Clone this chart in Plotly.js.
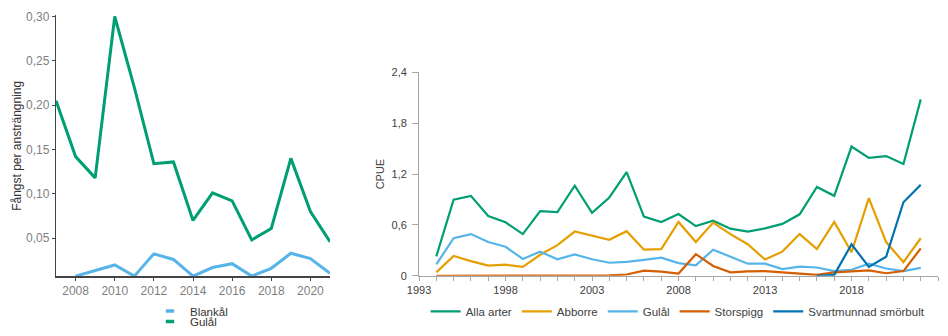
<!DOCTYPE html>
<html>
<head>
<meta charset="utf-8">
<script src="https://cdn.plot.ly/plotly-3.0.1.min.js"></script>
<style>html,body{margin:0;padding:0;background:#fff}#chart{width:948px;height:336px}</style>
</head>
<body>
<div id="chart"></div>
<script>
// ---- Left panel data ----
const leftYearsGulal = [2007,2008,2009,2010,2011,2012,2013,2014,2015,2016,2017,2018,2019,2020,2021];
const leftGulal      = [0.205,0.142,0.118,0.300,0.220,0.134,0.136,0.070,0.101,0.092,0.048,0.061,0.140,0.080,0.046];
const leftYearsBlank = [2008,2009,2010,2011,2012,2013,2014,2015,2016,2017,2018,2019,2020,2021];
const leftBlankal    = [0.0072,0.0134,0.0198,0.0072,0.0323,0.0260,0.0072,0.0169,0.0212,0.0072,0.0160,0.0330,0.0270,0.0104];
const leftYTickVals  = [0.05,0.10,0.15,0.20,0.25,0.30];
const leftYTickText  = ["0,05","0,10","0,15","0,20","0,25","0,30"];
const leftXTickVals  = [2008,2010,2012,2014,2016,2018,2020];

// ---- Right panel data ----
const rightYears = [1994,1995,1996,1997,1998,1999,2000,2001,2002,2003,2004,2005,2006,2007,2008,2009,2010,2011,2012,2013,2014,2015,2016,2017,2018,2019,2020,2021,2022];
const allaArter = [0.229,0.898,0.943,0.706,0.631,0.492,0.762,0.751,1.063,0.744,0.924,1.224,0.699,0.635,0.729,0.586,0.650,0.556,0.522,0.560,0.612,0.725,1.048,0.943,1.525,1.390,1.412,1.318,2.081];
const abborre   = [0.041,0.233,0.173,0.120,0.131,0.105,0.248,0.361,0.522,0.473,0.424,0.526,0.308,0.315,0.635,0.398,0.627,0.492,0.372,0.192,0.285,0.492,0.315,0.635,0.278,0.916,0.398,0.161,0.443];
const gulal     = [0.135,0.443,0.492,0.398,0.342,0.199,0.285,0.195,0.252,0.195,0.154,0.165,0.188,0.214,0.150,0.124,0.308,0.225,0.143,0.143,0.079,0.109,0.098,0.056,0.071,0.143,0.086,0.056,0.094];
const storspigg = [0,0,0,0,0,0,0,0,0,0,0.004,0.015,0.060,0.049,0.026,0.255,0.116,0.041,0.053,0.056,0.041,0.023,0.011,0.041,0.053,0.064,0.030,0.056,0.323];
const smorYears = [2016,2017,2018,2019,2020,2021,2022];
const smorbult  = [0,0.011,0.372,0.105,0.225,0.868,1.074];
const rightYTickVals = [0,0.6,1.2,1.8,2.4];
const rightYTickText = ["0","0,6","1,2","1,8","2,4"];

const cGreen = "#009E73", cBlue = "#56B4E9", cOrange = "#E69F00", cRed = "#D55E00", cDark = "#0072B2";

const traces = [
  // left panel
  {x: leftYearsBlank, y: leftBlankal, mode:"lines", line:{color:cBlue, width:3}, xaxis:"x", yaxis:"y", showlegend:false},
  {x: leftYearsGulal, y: leftGulal, mode:"lines", line:{color:cGreen, width:3}, xaxis:"x", yaxis:"y", showlegend:false},
  {x:[null], y:[null], name:"Blankål", mode:"markers", marker:{symbol:"line-ew", size:6, line:{width:3.5, color:cBlue}}, xaxis:"x", yaxis:"y", legend:"legend"},
  {x:[null], y:[null], name:"Gulål", mode:"markers", marker:{symbol:"line-ew", size:6, line:{width:3.5, color:cGreen}}, xaxis:"x", yaxis:"y", legend:"legend2"},
  // right panel
  {x: rightYears, y: allaArter, name:"Alla arter", mode:"lines", line:{color:cGreen, width:2.2}, xaxis:"x2", yaxis:"y2", legend:"legend3"},
  {x: rightYears, y: abborre, name:"Abborre", mode:"lines", line:{color:cOrange, width:2.2}, xaxis:"x2", yaxis:"y2", legend:"legend3"},
  {x: rightYears, y: gulal, name:"Gulål", mode:"lines", line:{color:cBlue, width:2.2}, xaxis:"x2", yaxis:"y2", legend:"legend3"},
  {x: rightYears, y: storspigg, name:"Storspigg", mode:"lines", line:{color:cRed, width:2.2}, xaxis:"x2", yaxis:"y2", legend:"legend3"},
  {x: smorYears, y: smorbult, name:"Svartmunnad smörbult", mode:"lines", line:{color:cDark, width:2.2}, xaxis:"x2", yaxis:"y2", legend:"legend3"}
];

const FAM = "Liberation Sans, Arial, sans-serif";
const leftFont = {family:FAM, size:12, color:"#7f7f7f"};
const rightFont = {family:FAM, size:11, color:"#404040"};

const layout = {
  width:948, height:336,
  margin:{l:0, r:0, t:0, b:0},
  paper_bgcolor:"#fff", plot_bgcolor:"rgba(0,0,0,0)",
  showlegend:true,
  xaxis:{domain:[0.0591,0.3481], range:[2007,2021], anchor:"y", showgrid:false, zeroline:false,
    showline:true, linecolor:"#444", linewidth:1.3, ticks:"outside", ticklen:3, tickcolor:"#444",
    tickvals:leftXTickVals, tickfont:leftFont},
  yaxis:{domain:[0.139,0.9524], range:[0.0069,0.3014], anchor:"x", showgrid:false, zeroline:false,
    showline:true, linecolor:"#444", linewidth:1.3, ticks:"outside", ticklen:3, tickcolor:"#444",
    tickvals:leftYTickVals, ticktext:leftYTickText, tickfont:leftFont,
    title:{text:"Fångst per ansträngning", font:{family:FAM, size:12, color:"#333"}, standoff:1}},
  xaxis2:{domain:[0.442,0.9895], range:[1993,2023], anchor:"y2", showgrid:false, zeroline:false,
    showline:true, linecolor:"#a6a6a6", linewidth:1, ticks:"outside", ticklen:4, tickcolor:"#a6a6a6",
    tick0:1993, dtick:5, tickfont:rightFont,
    minor:{dtick:1, ticks:"outside", ticklen:4, tickcolor:"#a6a6a6"}},
  yaxis2:{domain:[0.1408,0.7747], range:[0,2.4], anchor:"x2", showgrid:false, zeroline:false,
    showline:true, linecolor:"#a6a6a6", linewidth:1, ticks:"outside", ticklen:6, tickcolor:"#a6a6a6",
    ticklabelstandoff:3,
    tickvals:rightYTickVals, ticktext:rightYTickText, tickfont:rightFont,
    title:{text:"CPUE", font:{family:FAM, size:11, color:"#404040"}, standoff:4}},
  legend:{x:0.1582, y:0.031, xanchor:"left", yanchor:"middle", bgcolor:"rgba(0,0,0,0)",
    font:{family:FAM, size:11.5, color:"#333"}},
  legend2:{x:0.1582, y:-0.0025, xanchor:"left", yanchor:"middle", bgcolor:"rgba(0,0,0,0)",
    font:{family:FAM, size:11.5, color:"#333"}},
  legend3:{x:0.449, y:0.0298, xanchor:"left", yanchor:"middle", orientation:"h", bgcolor:"rgba(0,0,0,0)",
    font:{family:FAM, size:11.5, color:"#404040"}}
};

Plotly.newPlot("chart", traces, layout, {displayModeBar:false, staticPlot:true});
</script>
</body>
</html>
